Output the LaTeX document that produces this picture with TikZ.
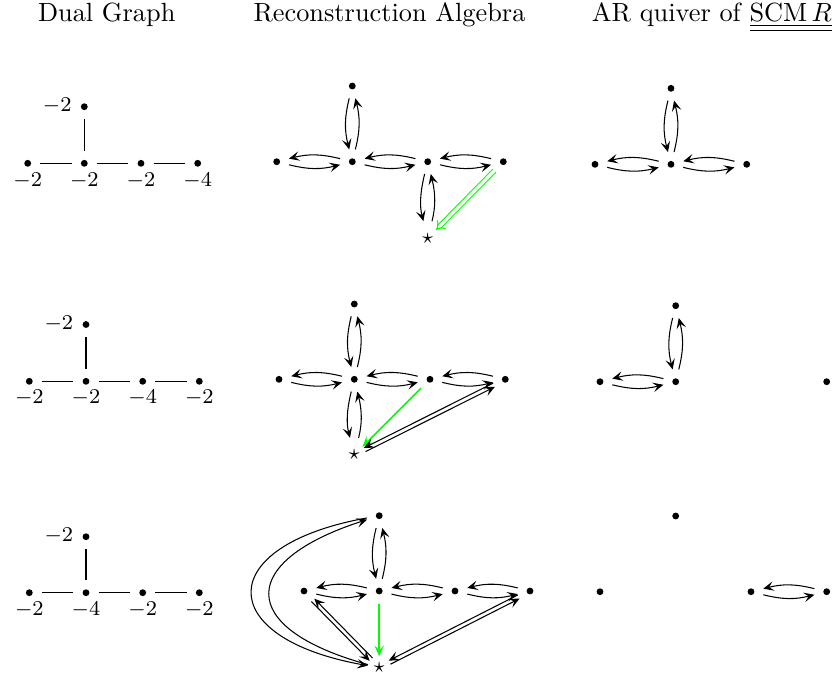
\documentclass[tikz,border=0pt]{standalone}
\usetikzlibrary{arrows.meta}
\begin{document}
\begin{tikzpicture}[x=0.38pt,y=-0.38pt,
  dot/.style={circle,fill,inner sep=0pt,minimum size=2.6pt,outer sep=3.5pt},
  stnode/.style={circle,inner sep=0pt,outer sep=1.6pt,font=\footnotesize},
  lab/.style={font=\footnotesize,inner sep=0pt,anchor=base},
  tlab/.style={font=\footnotesize,inner sep=0pt,anchor=base east},
  title/.style={anchor=base,inner sep=0pt},
  ar/.style={-{Stealth[length=4pt,width=3.6pt,inset=1.7pt]}},
  pr/.style={ar,bend right=14},
  gr/.style={ar,green,line width=0.6pt},
  gline/.style={line width=0.4pt}]
\useasboundingbox (0,0) rectangle (836,675);

% titles
\node[title] (t1) at (106.7,21.7) {Dual Graph};
\node[title] (t2) at (389.5,21.7) {Reconstruction Algebra};
\node[title] (t3) at (711.9,21.7) {AR quiver of $\underline{\underline{\mathrm{SCM}\,R}}$};

% ---------- Row 1 dual graph
\node[dot] (d11) at (27.7,163.3) {};
\node[dot] (d12) at (84.3,163.3) {};
\node[dot] (d13) at (141,163.3) {};
\node[dot] (d14) at (197.7,163.3) {};
\node[dot] (d1t) at (84.3,106.7) {};
\node[lab] (l11) at (27.7,186) {$-2$};
\node[lab] (l12) at (84.3,186) {$-2$};
\node[lab] (l13) at (141,186) {$-2$};
\node[lab] (l14) at (197.7,186) {$-4$};
\node[tlab] (l1t) at (72,111.7) {$-2$};
\draw[gline] (d11) -- (d12);
\draw[gline] (d12) -- (d13);
\draw[gline] (d13) -- (d14);
\draw[gline] (d1t) -- (d12);

% ---------- Row 2 dual graph
\node[dot] (d21) at (29.3,381.3) {};
\node[dot] (d22) at (86,381.3) {};
\node[dot] (d23) at (142.7,381.3) {};
\node[dot] (d24) at (199.3,381.3) {};
\node[dot] (d2t) at (86,324.5) {};
\node[lab] (l21) at (29.3,403.7) {$-2$};
\node[lab] (l22) at (86,403.7) {$-2$};
\node[lab] (l23) at (142.7,403.7) {$-4$};
\node[lab] (l24) at (199.3,403.7) {$-2$};
\node[tlab] (l2t) at (73.7,329.3) {$-2$};
\draw[gline] (d21) -- (d22);
\draw[gline] (d22) -- (d23);
\draw[gline] (d23) -- (d24);
\draw[gline] (d2t) -- (d22);

% ---------- Row 3 dual graph
\node[dot] (d31) at (29.3,592.7) {};
\node[dot] (d32) at (86,592.7) {};
\node[dot] (d33) at (142.7,592.7) {};
\node[dot] (d34) at (199.3,592.7) {};
\node[dot] (d3t) at (86,536.7) {};
\node[lab] (l31) at (29.3,615.4) {$-2$};
\node[lab] (l32) at (86,615.4) {$-4$};
\node[lab] (l33) at (142.7,615.4) {$-2$};
\node[lab] (l34) at (199.3,615.4) {$-2$};
\node[tlab] (l3t) at (73.7,541.7) {$-2$};
\draw[gline] (d31) -- (d32);
\draw[gline] (d32) -- (d33);
\draw[gline] (d33) -- (d34);
\draw[gline] (d3t) -- (d32);

% ---------- Row 1 reconstruction algebra
\node[dot] (a1) at (276.7,161.7) {};
\node[dot] (a2) at (352.3,161.7) {};
\node[dot] (a3) at (427.7,161.7) {};
\node[dot] (a4) at (503.3,161.7) {};
\node[dot] (at) at (352.3,86) {};
\node[stnode] (as) at (427.7,238.3) {$\star$};
\draw[pr] (a2) to (a1);
\draw[pr] (a1) to (a2);
\draw[pr] (a3) to (a2);
\draw[pr] (a2) to (a3);
\draw[pr] (a4) to (a3);
\draw[pr] (a3) to (a4);
\draw[pr] (at) to (a2);
\draw[pr] (a2) to (at);
\draw[pr,shorten >=2.3pt] (a3) to (as);
\draw[pr,shorten <=2.3pt] (as) to (a3);
\draw[green,double,double distance=1.2pt,-{Implies}] (a4) -- (as);

% ---------- Row 1 AR quiver
\node[dot] (r1) at (595,164.3) {};
\node[dot] (r2) at (671,164.3) {};
\node[dot] (r3) at (746.7,164.3) {};
\node[dot] (rt) at (671,88.3) {};
\draw[pr] (r2) to (r1);
\draw[pr] (r1) to (r2);
\draw[pr] (r3) to (r2);
\draw[pr] (r2) to (r3);
\draw[pr] (rt) to (r2);
\draw[pr] (r2) to (rt);

% ---------- Row 2 reconstruction algebra
\node[dot] (b1) at (279,379.3) {};
\node[dot] (b2) at (354.3,379.3) {};
\node[dot] (b3) at (430,379.3) {};
\node[dot] (b4) at (505.3,379.3) {};
\node[dot] (bt) at (354.3,304) {};
\node[stnode] (bs) at (354.3,455) {$\star$};
\draw[pr] (b2) to (b1);
\draw[pr] (b1) to (b2);
\draw[pr] (b3) to (b2);
\draw[pr] (b2) to (b3);
\draw[pr] (b4) to (b3);
\draw[pr] (b3) to (b4);
\draw[pr] (bt) to (b2);
\draw[pr] (b2) to (bt);
\draw[pr,shorten >=2.3pt] (b2) to (bs);
\draw[pr,shorten <=2.3pt] (bs) to (b2);
\draw[gr] (b3) -- (bs);
\draw[ar,transform canvas={shift={(0.9,1.8)}}] (bs) -- (b4);
\draw[ar,transform canvas={shift={(-0.9,-1.8)}}] (b4) -- (bs);

% ---------- Row 2 AR quiver
\node[dot] (s1) at (600,381.7) {};
\node[dot] (s2) at (675.7,381.7) {};
\node[dot] (s4) at (826.7,381.7) {};
\node[dot] (st) at (675.7,305.7) {};
\draw[pr] (s2) to (s1);
\draw[pr] (s1) to (s2);
\draw[pr] (st) to (s2);
\draw[pr] (s2) to (st);

% ---------- Row 3 reconstruction algebra
\node[dot] (c1) at (304,591) {};
\node[dot] (c2) at (379.2,591) {};
\node[dot] (c3) at (455,591) {};
\node[dot] (c4) at (530,591) {};
\node[dot] (ct) at (379.2,515.7) {};
\node[stnode] (cs) at (379.2,667.7) {$\star$};
\draw[pr] (c2) to (c1);
\draw[pr] (c1) to (c2);
\draw[pr] (c3) to (c2);
\draw[pr] (c2) to (c3);
\draw[pr] (c4) to (c3);
\draw[pr] (c3) to (c4);
\draw[pr] (ct) to (c2);
\draw[pr] (c2) to (ct);
\draw[gr,line width=0.75pt] (c2) -- (cs);
\draw[ar,transform canvas={shift={(-1.43,1.4)}}] (c1) -- (cs);
\draw[ar,transform canvas={shift={(1.43,-1.4)}}] (cs) -- (c1);
\draw[ar,transform canvas={shift={(0.91,1.78)}}] (cs) -- (c4);
\draw[ar,transform canvas={shift={(-0.91,-1.78)}}] (c4) -- (cs);
\draw[ar] (ct) .. controls +(-166,30) and +(-166,-30) .. (cs);
\draw[ar] (cs) .. controls +(-145,-40) and +(-140,45) .. (ct);

% ---------- Row 3 AR quiver
\node[dot] (u1) at (600,591.7) {};
\node[dot] (ut) at (675.7,516) {};
\node[dot] (u3) at (751,591.7) {};
\node[dot] (u4) at (826.7,591.7) {};
\draw[pr] (u4) to (u3);
\draw[pr] (u3) to (u4);
\end{tikzpicture}
\end{document}
